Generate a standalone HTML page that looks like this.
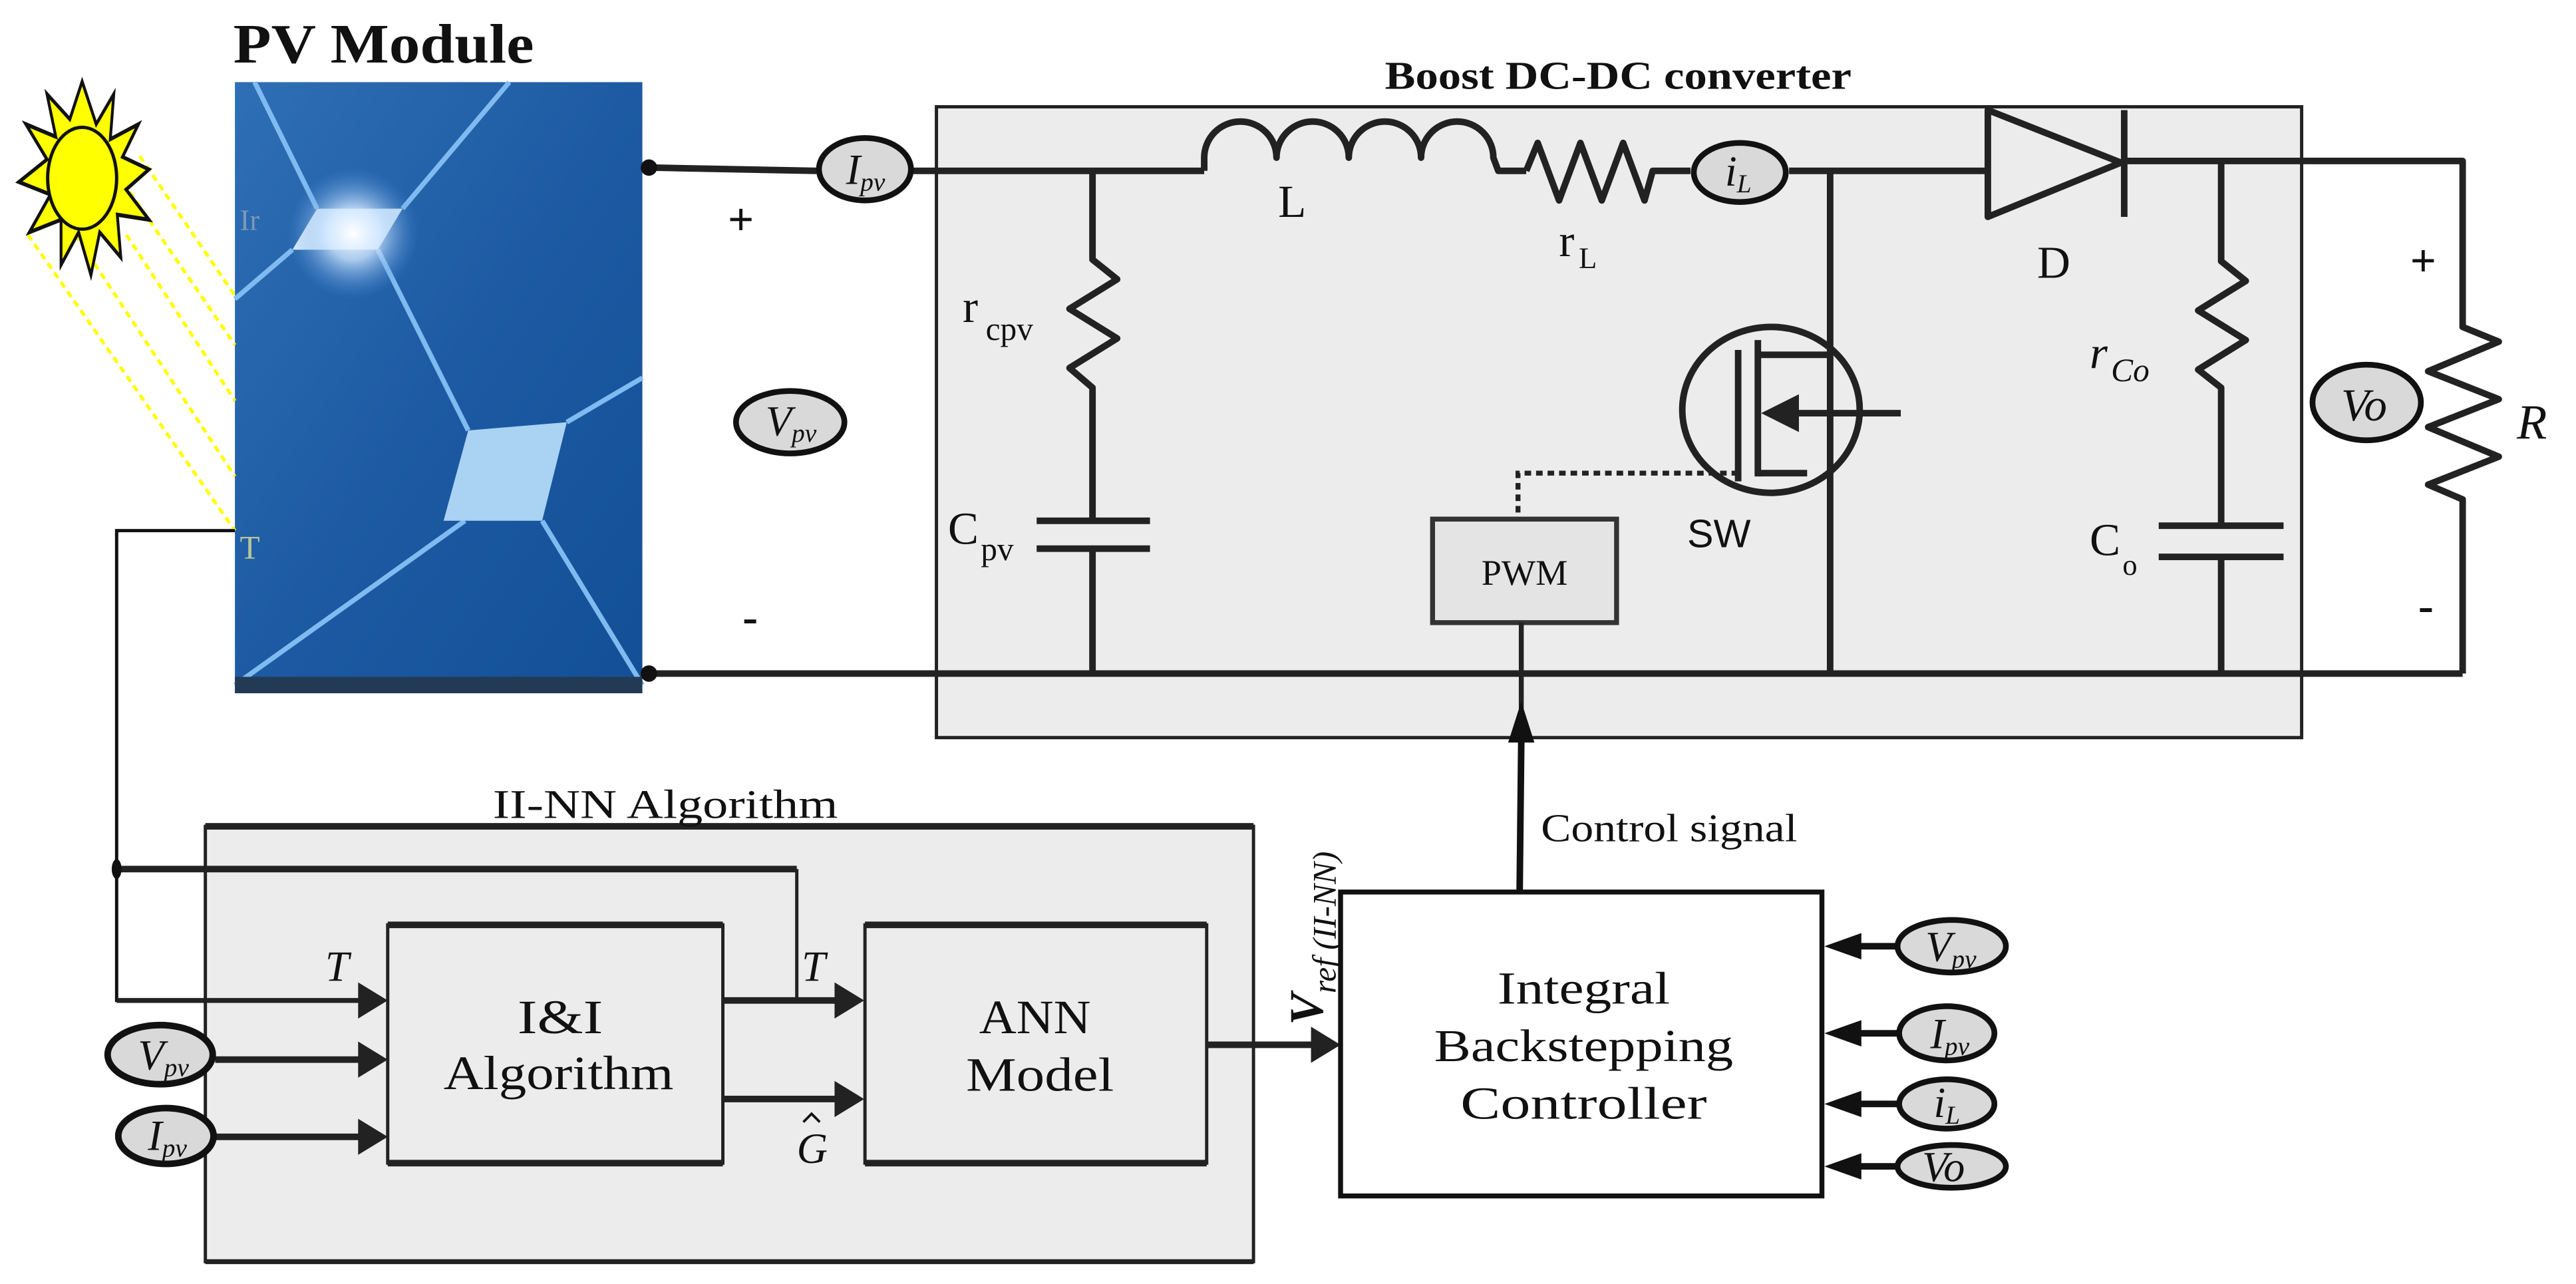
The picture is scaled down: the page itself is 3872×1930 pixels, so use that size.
<!DOCTYPE html>
<html><head><meta charset="utf-8"><style>
html,body{margin:0;padding:0;background:#fff}
svg{display:block}
text{font-family:"Liberation Serif",serif;fill:#111}
</style></head><body>
<svg width="3872" height="1930" viewBox="0 0 1568 781.6" preserveAspectRatio="none" xmlns="http://www.w3.org/2000/svg">
<defs>
<linearGradient id="pv" x1="0" y1="0" x2="1" y2="1">
<stop offset="0" stop-color="#2f6fb5"/><stop offset="0.5" stop-color="#1d5aa3"/><stop offset="1" stop-color="#124f96"/>
</linearGradient>
<radialGradient id="glow" cx="0.5" cy="0.5" r="0.5">
<stop offset="0" stop-color="#ffffff"/><stop offset="0.4" stop-color="#cfe6ff" stop-opacity="0.8"/><stop offset="1" stop-color="#4d8fd6" stop-opacity="0"/>
</radialGradient>
</defs>

<!-- PV module -->
<text x="142" y="38" font-size="34" font-weight="bold" textLength="183" lengthAdjust="spacingAndGlyphs">PV Module</text>
<rect x="143" y="50" width="248" height="372" fill="url(#pv)"/>
<g stroke="#7fbaf0" stroke-width="3" fill="none">
<path d="M155,50 L193,127 M245,127 L310,50 M178,152 L143,182 M230,152 L285,262 M345,257 L391,230 M283,317 L143,417 M330,317 L391,417"/>
</g>
<polygon points="193,127 245,127 230,152 178,152" fill="#dff0ff"/>
<polygon points="285,262 345,257 330,317 270,317" fill="#a9d2f3"/>
<circle cx="215" cy="142" r="40" fill="url(#glow)"/>
<rect x="143" y="412" width="248" height="10" fill="#233a55"/>
<text x="146" y="140" font-size="18" style="fill:#7d98b8">Ir</text>
<text x="146" y="340" font-size="20" style="fill:#b8c49a">T</text>

<!-- Sun rays -->
<g stroke="#ffff00" stroke-width="2" stroke-dasharray="4,3">
<line x1="85" y1="95" x2="143" y2="180"/><line x1="75" y1="111" x2="143" y2="210"/>
<line x1="77" y1="143" x2="143" y2="244"/><line x1="46" y1="143" x2="143" y2="290"/>
<line x1="17" y1="143" x2="143" y2="323"/></g>
<g transform="translate(50,108.5) scale(1.07,1.53) translate(-50,-103.5)">
<polygon points="50,65 58,82 68,70 66,88 82,82 73,95 88,100 75,108 88,120 70,118 72,135 60,125 55,142 48,125 38,138 38,120 20,125 32,110 14,105 30,96 18,82 35,87 30,70 43,80" fill="#ffff00" stroke="#111" stroke-width="1.6"/>
</g>
<ellipse cx="50" cy="108.5" rx="21" ry="31" fill="#ffff00" stroke="#111" stroke-width="2"/>

<!-- Boost converter box -->
<rect x="570" y="65" width="831" height="384" fill="#ececec" stroke="#222" stroke-width="2"/>
<text x="843" y="54" font-size="24" font-weight="bold" textLength="284" lengthAdjust="spacingAndGlyphs">Boost DC-DC converter</text>

<g stroke="#222" stroke-width="4" fill="none" stroke-linejoin="round">
<line x1="395" y1="102" x2="497" y2="104"/>
<line x1="556" y1="104" x2="733" y2="104"/>
<path d="M733,104 L733,96 A22,22 0 0 1 777,96 A22,22 0 0 1 821,96 A22,22 0 0 1 865,96 A22,22 0 0 1 909,96 L912,104 L929,104"/>
<path d="M929,104 L936,87 L949,122 L962,87 L975,122 L988,87 L1001,122 L1006,104 L1029,104"/>
<line x1="1089" y1="104" x2="1210" y2="104"/>
<line x1="1114" y1="104" x2="1114" y2="410"/>
<path d="M1210,67 L1210,132 L1291,99 z"/>
<line x1="1293" y1="67" x2="1293" y2="132"/>
<path d="M1293,98 L1499,98 L1499,199 L1521,208 L1478,226 L1521,243 L1478,260 L1521,278 L1478,295 L1499,304 L1499,410"/>
<line x1="395" y1="410" x2="1499" y2="410"/>
<path d="M665,104 L665,158 L680,170 L651,188 L680,206 L651,224 L665,236 L665,317"/>
<line x1="631" y1="317" x2="700" y2="317"/><line x1="631" y1="334" x2="700" y2="334"/>
<line x1="665" y1="334" x2="665" y2="410"/>
<path d="M1352,98 L1352,159 L1367,171 L1338,189 L1367,207 L1338,225 L1352,236 L1352,320"/>
<line x1="1314" y1="320" x2="1390" y2="320"/><line x1="1314" y1="339" x2="1390" y2="339"/>
<line x1="1352" y1="339" x2="1352" y2="410"/>
<ellipse cx="1078" cy="249.5" rx="54" ry="50.5"/>
<line x1="1070" y1="207" x2="1070" y2="290"/>
<line x1="1058" y1="213" x2="1058" y2="293"/>
<path d="M1070,216 L1114,216"/><path d="M1070,288 L1100,288"/>
<line x1="1095" y1="251.5" x2="1157" y2="251.5"/>
</g>
<polygon points="1072,251.5 1095,240 1095,263" fill="#222"/>
<circle cx="395" cy="102" r="5" fill="#111"/>
<circle cx="395" cy="410" r="5" fill="#111"/>
<path d="M1058,288 L924,288 L924,316" stroke="#222" stroke-width="3" stroke-dasharray="4,3" fill="none"/>
<rect x="872" y="316" width="112" height="63" fill="#e4e4e4" stroke="#333" stroke-width="3"/>
<text x="928" y="356" font-size="22" text-anchor="middle">PWM</text>
<line x1="926" y1="379" x2="926" y2="449" stroke="#222" stroke-width="3"/>

<!-- labels -->
<text x="586" y="196" font-size="28">r</text><text x="600" y="207" font-size="20">cpv</text>
<text x="577" y="331" font-size="28">C</text><text x="597" y="341" font-size="20">pv</text>
<text x="778" y="132" font-size="28">L</text>
<text x="949" y="156" font-size="28">r</text><text x="961" y="163" font-size="18">L</text>
<text x="1240" y="169" font-size="28">D</text>
<text x="1027" y="333" font-size="24" style="font-family:'Liberation Sans',sans-serif">SW</text>
<text x="1272" y="224" font-size="28" font-style="italic">r</text><text x="1285" y="232" font-size="20" font-style="italic">Co</text>
<text x="1272" y="338" font-size="28">C</text><text x="1292" y="350" font-size="18">o</text>
<text x="1532" y="267" font-size="30" font-style="italic">R</text>
<text x="443" y="143" font-size="28" font-weight="bold">+</text>
<text x="452" y="385" font-size="28" font-weight="bold">-</text>
<text x="1467" y="168" font-size="28" font-weight="bold">+</text>
<text x="1472" y="378" font-size="28" font-weight="bold">-</text>

<g stroke="#111" stroke-width="3.5" fill="#d9d9d9">
<ellipse cx="526.5" cy="103" rx="28" ry="19"/>
<ellipse cx="1059" cy="105" rx="28" ry="18"/>
<ellipse cx="481" cy="257" rx="33" ry="19"/>
<ellipse cx="1440.6" cy="245" rx="33" ry="23"/>
</g>
<text x="515" y="112" font-size="26" font-style="italic">I<tspan font-size="16" dy="4">pv</tspan></text>
<text x="1050" y="113" font-size="26" font-style="italic">i<tspan font-size="16" dy="4">L</tspan></text>
<text x="466" y="265" font-size="26" font-style="italic">V<tspan font-size="16" dy="4">pv</tspan></text>
<text x="1425" y="256" font-size="28" font-style="italic">Vo</text>

<!-- T feedback line -->
<path d="M143,323 L71,323 L71,609 L225,609" stroke="#111" stroke-width="2" fill="none"/>

<!-- II-NN box -->
<rect x="125" y="503" width="638" height="265" fill="#ececec" stroke="#222" stroke-width="2"/>
<line x1="125" y1="503" x2="763" y2="503" stroke="#222" stroke-width="4"/>
<line x1="125" y1="768" x2="763" y2="768" stroke="#222" stroke-width="3"/>
<text x="300" y="498" font-size="25" textLength="210" lengthAdjust="spacingAndGlyphs">II-NN Algorithm</text>
<path d="M485,529 L485,609" stroke="#222" stroke-width="2" fill="none"/>
<line x1="71" y1="529" x2="485" y2="529" stroke="#222" stroke-width="4"/>
<ellipse cx="71" cy="529" rx="3" ry="6" fill="#111"/>
<rect x="236" y="563" width="204" height="145" fill="#ececec" stroke="#222" stroke-width="2"/>
<line x1="236" y1="563" x2="440" y2="563" stroke="#222" stroke-width="4"/>
<line x1="236" y1="708" x2="440" y2="708" stroke="#222" stroke-width="4"/>
<rect x="526.5" y="563" width="208" height="145" fill="#ececec" stroke="#222" stroke-width="2"/>
<line x1="526.5" y1="563" x2="734.5" y2="563" stroke="#222" stroke-width="4"/>
<line x1="526.5" y1="708" x2="734.5" y2="708" stroke="#222" stroke-width="4"/>
<text x="341" y="629" font-size="29" text-anchor="middle" textLength="52" lengthAdjust="spacingAndGlyphs">I&amp;I</text>
<text x="340" y="663" font-size="29" text-anchor="middle" textLength="140" lengthAdjust="spacingAndGlyphs">Algorithm</text>
<text x="630" y="629" font-size="29" text-anchor="middle" textLength="68" lengthAdjust="spacingAndGlyphs">ANN</text>
<text x="633" y="664" font-size="29" text-anchor="middle" textLength="90" lengthAdjust="spacingAndGlyphs">Model</text>

<g stroke="#222" stroke-width="4" fill="none">
<line x1="71" y1="609" x2="220" y2="609" stroke-width="3"/>
<line x1="131" y1="645" x2="220" y2="645"/>
<line x1="131" y1="692" x2="220" y2="692"/>
<line x1="440" y1="609" x2="510" y2="609"/>
<line x1="440" y1="669" x2="510" y2="669"/>
<line x1="734" y1="636" x2="800" y2="636"/>
</g>
<g fill="#222">
<polygon points="236,609 218,598 218,620"/>
<polygon points="236,645 218,634 218,656"/>
<polygon points="236,692 218,681 218,703"/>
<polygon points="526,609 508,598 508,620"/>
<polygon points="526,669 508,658 508,680"/>
<polygon points="816,636 798,625 798,647"/>
</g>
<text x="198" y="597" font-size="26" font-style="italic">T</text>
<text x="488" y="597" font-size="26" font-style="italic">T</text>
<text x="485" y="708" font-size="26" font-style="italic">G</text>
<path d="M489,683 L494,678 L499,683" stroke="#111" stroke-width="1.5" fill="none"/>
<g transform="translate(805,624) rotate(-90)">
<text x="0" y="0" font-size="29" font-style="italic" font-weight="bold">V<tspan font-size="20" dy="8" font-weight="normal">ref (II-NN)</tspan></text></g>
<ellipse cx="97.5" cy="642" rx="32" ry="18" fill="#d9d9d9" stroke="#111" stroke-width="4"/>
<ellipse cx="101" cy="691.5" rx="29" ry="17" fill="#d9d9d9" stroke="#111" stroke-width="4"/>
<text x="84" y="651" font-size="26" font-style="italic">V<tspan font-size="16" dy="4">pv</tspan></text>
<text x="90" y="700" font-size="26" font-style="italic">I<tspan font-size="16" dy="4">pv</tspan></text>

<!-- Controller -->
<rect x="816" y="543" width="293" height="185" fill="#fff" stroke="#111" stroke-width="3"/>
<text x="964" y="611" font-size="28" text-anchor="middle" textLength="105" lengthAdjust="spacingAndGlyphs">Integral</text>
<text x="964" y="646" font-size="28" text-anchor="middle" textLength="182" lengthAdjust="spacingAndGlyphs">Backstepping</text>
<text x="964" y="681" font-size="28" text-anchor="middle" textLength="150" lengthAdjust="spacingAndGlyphs">Controller</text>
<line x1="925" y1="543" x2="926" y2="450" stroke="#111" stroke-width="4"/>
<polygon points="926,427 918,452 934,452" fill="#111"/>
<text x="938" y="512" font-size="24" textLength="156" lengthAdjust="spacingAndGlyphs">Control signal</text>

<g stroke="#111" stroke-width="4">
<line x1="1130" y1="576" x2="1155" y2="576"/>
<line x1="1130" y1="629" x2="1155" y2="629"/>
<line x1="1130" y1="672" x2="1155" y2="672"/>
<line x1="1130" y1="710" x2="1155" y2="710"/>
</g>
<g fill="#111">
<polygon points="1110.5,576 1133,568 1133,584"/>
<polygon points="1110.5,629 1133,621 1133,637"/>
<polygon points="1110.5,672 1133,664 1133,680"/>
<polygon points="1110.5,710 1133,702 1133,718"/>
</g>
<g stroke="#111" stroke-width="3.5" fill="#d9d9d9">
<ellipse cx="1188" cy="576" rx="33" ry="16"/>
<ellipse cx="1185" cy="629" rx="29" ry="16.5"/>
<ellipse cx="1185" cy="672" rx="29" ry="15"/>
<ellipse cx="1188" cy="710" rx="33" ry="13"/>
</g>
<text x="1172" y="585" font-size="26" font-style="italic">V<tspan font-size="16" dy="4">pv</tspan></text>
<text x="1175" y="638" font-size="26" font-style="italic">I<tspan font-size="16" dy="4">pv</tspan></text>
<text x="1177" y="680" font-size="26" font-style="italic">i<tspan font-size="16" dy="4">L</tspan></text>
<text x="1170" y="719" font-size="26" font-style="italic">Vo</text>
</svg>
</body></html>
